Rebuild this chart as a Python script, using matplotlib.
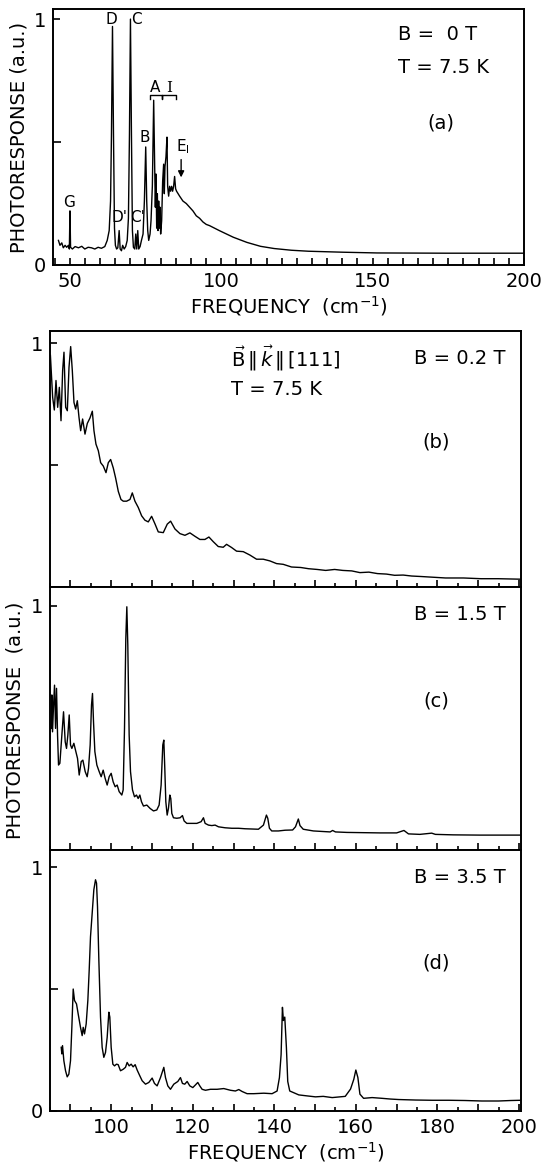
import numpy as np
import matplotlib
matplotlib.use("Agg")
import matplotlib.pyplot as plt
from matplotlib.ticker import MultipleLocator, FixedLocator, FuncFormatter

plt.rcParams['font.family'] = ['DejaVu Sans']
plt.rcParams['mathtext.fontset'] = 'dejavusans'

# ---- data (frequency in cm^-1, photoresponse a.u.)
# (a) B = 0 T
freq_a = [46.3, 46.8, 47.4, 47.9, 48.5, 49.0, 49.6, 49.9, 50.1, 50.3, 50.9, 51.8, 52.9,
          54.0, 55.0, 56.1, 57.2, 58.3, 59.4, 60.5, 61.6, 62.4, 63.05, 63.5, 63.8, 64.14,
          64.47, 64.8, 65.1, 65.5, 65.9, 66.34, 66.67, 67.1, 67.5, 68.0, 68.5, 69.0, 69.4,
          69.74, 70.07, 70.4, 70.72, 71.05, 71.5, 71.82, 72.15, 72.48, 72.81, 73.25, 73.7,
          74.23, 74.67, 75.11, 75.44, 75.77, 76.1, 76.54, 76.86, 77.3, 77.74, 78.07, 78.29,
          78.51, 78.73, 78.95, 79.17, 79.39, 79.61, 79.82, 80.04, 80.37, 80.7, 81.03, 81.25,
          81.47, 81.8, 82.13, 82.35, 82.68, 83.0, 83.33, 83.66, 83.99, 84.32, 84.65, 84.98,
          85.3, 86.3, 87.4, 88.5, 89.6, 90.7, 91.8, 92.9, 94.0, 95.1, 96.2, 99.4, 104.0,
          108.5, 113.0, 117.5, 123.2, 128.8, 140.2, 151.5, 174.1, 200.0]
resp_a = [.10, .08, .09, .07, .08, .072, .08, .065, .22, .072, .065, .075, .07,
          .076, .065, .072, .07, .065, .072, .068, .075, .10, .14, .26, .53, .97,
          .53, .15, .08, .065, .07, .14, .065, .058, .08, .065, .075, .10, .19,
          .53, 1.0, .53, .14, .072, .065, .126, .065, .14, .065, .075, .10,
          .126, .26, .48, .26, .14, .10, .126, .18, .32, .67, .40, .235,
          .37, .15, .29, .14, .26, .15, .235, .126, .18, .34, .41, .29,
          .40, .44, .52, .32, .28, .32, .30, .32, .30, .32, .36, .31,
          .30, .28, .26, .25, .235, .22, .20, .19, .175, .165, .16, .14, .113,
          .092, .076, .067, .06, .056, .052, .049, .048, .048]

# (b) B = 0.2 T
freq_b = [85.1, 85.65, 86.06, 86.47, 86.88, 87.29, 87.7, 88.1, 88.43, 88.84, 89.25, 89.66,
          90.07, 90.47, 90.88, 91.29, 91.7, 92.11, 92.52, 93.0, 93.58, 94.15, 94.8, 95.38,
          95.78, 96.27, 96.85, 97.42, 98.07, 98.73, 99.3, 99.87, 100.52, 101.09, 101.75,
          102.4, 102.97, 103.79, 104.61, 105.18, 105.83, 106.65, 107.47, 108.28, 109.1,
          109.92, 110.74, 111.55, 112.78, 113.76, 114.58, 115.64, 116.86, 118.09, 119.31,
          120.54, 121.76, 122.99, 123.97, 125.03, 126.26, 127.48, 128.3, 129.53, 130.75,
          132.39, 134.02, 135.65, 137.29, 138.92, 140.56, 142.19, 144.23, 146.5, 148.4,
          150.5, 152.6, 154.8, 156.8, 159.0, 161.0, 163.2, 165.3, 167.5, 169.5, 171.6,
          173.7, 176.0, 178.0, 182.0, 186.4, 190.7, 194.9, 200.5]
resp_b = [.95, .778, .726, .847, .737, .819, .682, .888, .963, .737, .723, .901,
          .986, .888, .757, .730, .764, .696, .641, .689, .627, .671, .693, .721,
          .641, .586, .559, .510, .496, .469, .510, .523, .488, .447, .392,
          .359, .352, .352, .359, .386, .352, .326, .292, .274, .267,
          .290, .259, .226, .223, .258, .270, .238, .219, .212, .222,
          .208, .195, .195, .205, .186, .166, .163, .175, .162, .147,
          .145, .131, .114, .114, .107, .096, .093, .082, .080, .075,
          .072, .068, .072, .068, .066, .059, .061, .055, .053, .048, .049,
          .045, .043, .041, .037, .037, .034, .034, .032]

# (c) B = 1.5 T
freq_c = [85.29, 85.46, 85.62, 85.87, 86.11, 86.36, 86.6, 86.85, 87.09, 87.42, 87.91, 88.32,
          88.73, 89.05, 89.38, 89.71, 90.03, 90.36, 90.85, 91.34, 91.75, 92.16, 92.65, 93.06,
          93.63, 94.12, 94.44, 94.85, 95.18, 95.42, 95.67, 96.0, 96.49, 97.06, 97.55, 98.04,
          98.53, 99.02, 99.51, 100.0, 100.49, 100.98, 101.47, 101.96, 102.61, 102.94, 103.27,
          103.59, 103.84, 104.08, 104.41, 104.74, 105.23, 105.72, 106.21, 106.62, 107.03,
          107.43, 107.92, 108.74, 109.56, 110.38, 111.19, 111.76, 112.25, 112.66, 112.91,
          113.15, 113.4, 113.73, 114.05, 114.38, 114.62, 114.87, 115.28, 116.09, 116.91,
          117.48, 117.89, 118.55, 119.77, 121.0, 122.06, 122.63, 123.04, 123.86, 124.67,
          125.49, 126.31, 127.94, 129.58, 131.21, 132.84, 134.48, 136.11, 137.34, 138.07,
          138.4, 138.81, 139.38, 141.01, 142.65, 144.5, 145.2, 145.9, 146.3, 147.1, 149.6,
          153.7, 154.3, 155.0, 157.8, 161.8, 165.9, 170.0, 171.8, 172.9, 175.7, 178.6,
          179.5, 183.9, 190.4, 200.5]
resp_c = [.498, .635, .484, .593, .675, .498, .662, .471, .348, .355, .471, .566,
          .443, .416, .471, .553, .430, .416, .437, .403, .375, .307, .362, .368,
          .321, .300, .334, .430, .594, .641, .525, .403, .348, .321, .300, .327,
          .293, .266, .300, .314, .279, .259, .266, .239, .225, .246, .498,
          .866, .996, .839, .471, .321, .246, .218, .225, .211, .225,
          .198, .180, .184, .170, .160, .164, .184, .266, .430, .450,
          .334, .198, .143, .171, .225, .211, .150, .132, .130, .132,
          .141, .119, .109, .109, .109, .116, .132, .109, .102, .100,
          .102, .095, .091, .089, .089, .087, .086, .085, .102, .143,
          .130, .089, .078, .078, .081, .082, .095, .127, .100, .085, .078,
          .074, .080, .074, .072, .071, .070, .070, .080, .066, .064, .069,
          .064, .062, .061, .061]

# (d) B = 3.5 T
freq_d = [87.75, 87.91, 88.07, 88.4, 88.81, 89.22, 89.62, 90.03, 90.36, 90.69, 91.01, 91.5,
          91.91, 92.48, 92.89, 93.14, 93.46, 93.87, 94.28, 94.61, 94.93, 95.34, 95.75, 96.16,
          96.41, 96.65, 96.98, 97.39, 97.79, 98.2, 98.61, 99.02, 99.43, 99.67, 100.0, 100.41,
          100.82, 101.31, 101.72, 102.29, 102.94, 103.51, 103.92, 104.41, 104.9, 105.39,
          105.88, 106.37, 107.03, 107.6, 108.42, 109.23, 110.05, 110.62, 111.27, 112.09,
          112.91, 113.32, 113.89, 114.54, 115.36, 116.34, 116.99, 117.48, 118.05, 118.63,
          119.28, 120.02, 120.67, 121.24, 121.73, 122.3, 123.12, 124.35, 125.98, 127.61,
          129.25, 130.47, 131.29, 132.11, 133.33, 134.97, 137.42, 139.46, 140.69, 141.26,
          141.67, 142.0, 142.24, 142.57, 142.97, 143.3, 143.79, 144.77, 146.0, 148.0, 150.1,
          152.0, 154.2, 157.4, 158.7, 159.5, 160.0, 160.5, 161.0, 161.9, 164.0, 166.4,
          168.5, 170.5, 172.5, 174.6, 178.7, 182.8, 186.8, 190.9, 195.0, 198.0, 200.5]
resp_d = [.261, .234, .268, .206, .165, .140, .151, .206, .343, .500, .453, .439,
          .398, .343, .309, .343, .316, .357, .453, .577, .714, .810, .907, .948,
          .934, .838, .618, .385, .261, .220, .240, .302, .405, .385, .261, .192,
          .185, .192, .190, .165, .171, .179, .199, .185, .192, .181,
          .190, .168, .144, .124, .110, .117, .135, .113, .103, .137,
          .179, .137, .103, .089, .110, .121, .137, .113, .110, .121,
          .103, .096, .107, .117, .103, .089, .085, .089, .089, .092,
          .085, .082, .088, .080, .071, .071, .073, .071, .082, .137,
          .231, .425, .371, .385, .261, .121, .082, .075, .066, .062, .058,
          .060, .055, .060, .090, .130, .168, .137, .069, .052, .055, .052,
          .049, .047, .046, .045, .044, .044, .043, .041, .041, .043, .044]

fig = plt.figure(figsize=(5.41, 11.69), dpi=100)

FS = 14
LW = 1.0


def style(ax, ylim_top):
    for s in ax.spines.values():
        s.set_linewidth(1.4)
    ax.set_ylim(0, ylim_top)
    ax.tick_params(which='both', direction='in', top=False, right=False,
                   labelsize=FS, width=1.2, pad=5)
    ax.tick_params(which='major', length=5)
    ax.tick_params(which='minor', length=3)


# ---- panel (a)
ax_a = fig.add_axes([53 / 541, 1 - 265 / 1169, 471 / 541, 256 / 1169])
ax_a.plot(freq_a, resp_a, color='black', lw=LW)
style(ax_a, 1.041)
ax_a.set_xlim(44.5, 200)
ax_a.xaxis.set_major_locator(FixedLocator([50, 100, 150, 200]))
ax_a.xaxis.set_minor_locator(MultipleLocator(5))
ax_a.tick_params(axis='x', which='minor', length=5)
ax_a.yaxis.set_major_locator(FixedLocator([0, 1]))
ax_a.yaxis.set_minor_locator(FixedLocator([0.5]))
ax_a.tick_params(axis='y', which='minor', length=6)
ax_a.set_xlabel(r'FREQUENCY  (cm$^{-1}$)', fontsize=FS, labelpad=2)
ax_a.set_ylabel('PHOTORESPONSE (a.u.)', fontsize=FS, labelpad=4)

ta = ax_a.transAxes
ax_a.text(0.732, 0.90, 'B =  0 T', transform=ta, fontsize=FS, va='center')
ax_a.text(0.732, 0.772, 'T = 7.5 K', transform=ta, fontsize=FS, va='center')
ax_a.text(0.824, 0.555, '(a)', transform=ta, fontsize=FS, va='center', ha='center')

lab = 11
ax_a.text(49.9, 0.255, 'G', fontsize=lab, ha='center', va='center')
ax_a.text(63.7, 1.0, 'D', fontsize=lab, ha='center', va='center')
ax_a.text(72.0, 1.0, 'C', fontsize=lab, ha='center', va='center')
ax_a.text(66.4, 0.195, "D'", fontsize=lab, ha='center', va='center')
ax_a.text(72.4, 0.195, "C'", fontsize=lab, ha='center', va='center')
ax_a.text(74.9, 0.52, 'B', fontsize=lab, ha='center', va='center')
ax_a.text(78.3, 0.72, 'A', fontsize=lab, ha='center', va='center')
ax_a.text(82.8, 0.72, 'I', fontsize=lab, ha='center', va='center', family='DejaVu Serif')
ax_a.plot([76.4, 76.4, 80.6, 80.6, 80.6, 85.2, 85.2],
          [0.675, 0.69, 0.69, 0.675, 0.69, 0.69, 0.675], color='black', lw=1.0)
ax_a.text(87.3, 0.48, r'E$_{\mathrm{I}}$', fontsize=lab, ha='center', va='center')
ax_a.annotate('', xy=(86.8, 0.345), xytext=(86.8, 0.44),
              arrowprops=dict(arrowstyle='-|>', color='black', lw=1.0, mutation_scale=9))

# ---- panels (b), (c), (d)
left, width = 50 / 541, 471 / 541
ax_b = fig.add_axes([left, 1 - 587 / 1169, width, 256 / 1169])
ax_c = fig.add_axes([left, 1 - 850 / 1169, width, 263 / 1169], sharex=ax_b)
ax_d = fig.add_axes([left, 1 - 1111 / 1169, width, 261 / 1169], sharex=ax_b)

panels = [
    (ax_b, freq_b, resp_b, 1.05, 'B = 0.2 T', '(b)'),
    (ax_c, freq_c, resp_c, 1.077, 'B = 1.5 T', '(c)'),
    (ax_d, freq_d, resp_d, 1.07, 'B = 3.5 T', '(d)'),
]
for ax, fx, ry, top, btxt, letter in panels:
    ax.plot(fx, ry, color='black', lw=LW)
    style(ax, top)
    ax.set_xlim(85, 200.5)
    ax.xaxis.set_major_locator(MultipleLocator(10))
    ax.xaxis.set_minor_locator(MultipleLocator(5))
    ax.yaxis.set_major_locator(FixedLocator([0, 1]))
    ax.yaxis.set_major_formatter(FuncFormatter(lambda v, p: '%d' % v))
    ax.text(0.773, 0.894, btxt, transform=ax.transAxes, fontsize=FS, va='center')
    ax.text(0.82, 0.568, letter, transform=ax.transAxes, fontsize=FS,
            va='center', ha='center')

for ax in (ax_b, ax_c):
    ax.tick_params(axis='x', labelbottom=False)
    ax.yaxis.set_major_formatter(FuncFormatter(lambda v, p: '1' if v == 1 else ''))
ax_b.yaxis.set_minor_locator(FixedLocator([0.5]))
ax_d.yaxis.set_minor_locator(FixedLocator([0.5]))
ax_b.tick_params(axis='y', which='minor', length=6)
ax_d.tick_params(axis='y', which='minor', length=6)

ax_d.xaxis.set_major_formatter(FuncFormatter(lambda v, p: '%d' % v if int(round(v)) % 20 == 0 else ''))
ax_d.set_xlabel(r'FREQUENCY  (cm$^{-1}$)', fontsize=FS, labelpad=2)

ax_b.text(0.384, 0.894, r'$\vec{\mathrm{B}}\,\Vert\,\vec{k}\,\Vert\,[111]$',
          transform=ax_b.transAxes, fontsize=FS, va='center')
ax_b.text(0.384, 0.773, 'T = 7.5 K', transform=ax_b.transAxes, fontsize=FS, va='center')

fig.text(15 / 541, 1 - 720 / 1169, 'PHOTORESPONSE  (a.u.)', rotation=90,
         fontsize=FS, ha='center', va='center')

fig.savefig('out.png', dpi=100)
